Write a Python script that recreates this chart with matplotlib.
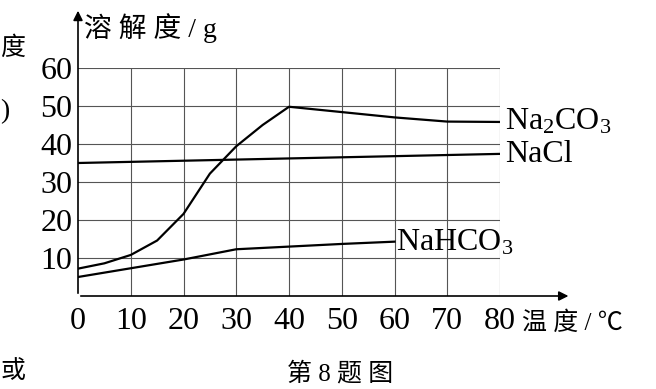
import matplotlib.pyplot as plt

plt.rcParams['font.family'] = ['Liberation Serif', 'Noto Sans CJK SC']
plt.rcParams['mathtext.fontset'] = 'custom'
plt.rcParams['mathtext.rm'] = 'Liberation Serif'
plt.rcParams['mathtext.it'] = 'Liberation Serif'

# solubility data (g / 100 g water)
t_na2co3 = [0, 5, 10, 15, 20, 25, 30, 35, 40, 50, 60, 70, 80]
na2co3 = [7.2, 8.6, 10.8, 14.6, 21.6, 32.2, 39.4, 45.0, 49.8, 48.4, 47.0, 45.9, 45.8]

t_nacl = [0, 20, 40, 60, 80]
nacl = [35.0, 35.6, 36.2, 36.8, 37.4]

t_nahco3 = [0, 10, 20, 30, 40, 50, 60]
nahco3 = [5.0, 7.3, 9.6, 12.3, 13.0, 13.7, 14.3]

xticks = [0, 10, 20, 30, 40, 50, 60, 70, 80]
yticks = [10, 20, 30, 40, 50, 60]

fig = plt.figure(figsize=(6.56, 3.89), dpi=100)
ax = fig.add_axes([78/656, 1-296/389, 422/656, 228/389])

for x in xticks[1:]:
    ax.plot([x, x], [0, 60], color='#555555', lw=0.8, zorder=1)
for y in yticks:
    ax.plot([0, 80], [y, y], color='#555555', lw=0.8, zorder=1)

ax.plot(t_na2co3, na2co3, color='black', lw=1.6, zorder=3)
ax.plot(t_nacl, nacl, color='black', lw=1.6, zorder=3)
ax.plot(t_nahco3, nahco3, color='black', lw=1.6, zorder=3)

ax.set_xlim(0, 80)
ax.set_ylim(0, 60)
for s in ax.spines.values():
    s.set_visible(False)

# axis arrows
ax.annotate('', xy=(93.5, 0), xytext=(0, 0),
            arrowprops=dict(arrowstyle='-|>', color='black', lw=1.2, mutation_scale=14),
            annotation_clip=False)
ax.annotate('', xy=(0, 75.8), xytext=(0, 0),
            arrowprops=dict(arrowstyle='-|>', color='black', lw=1.2, mutation_scale=14),
            annotation_clip=False)

ax.set_xticks(xticks)
ax.set_yticks(yticks)
ax.tick_params(length=0, labelsize=23)
ax.tick_params(axis='x', pad=8)
ax.tick_params(axis='y', pad=4)

ax.text(81, 45.8, 'Na$_2$CO$_3$', fontsize=23, va='center', ha='left')
ax.text(81, 37.2, 'NaCl', fontsize=23, va='center', ha='left')
ax.text(60.2, 14.0, 'NaHCO$_3$', fontsize=23, va='center', ha='left')

ax.text(1.2, 70.5, '溶 解 度 / g', fontsize=20, va='center', ha='left')
fig.text(522/656, 1-323/389, '温 度 / ℃', fontsize=18, va='center', ha='left')
fig.text(340/656, 1-374/389, '第 8 题 图', fontsize=18, va='center', ha='center')

# text fragments at the left edge of the scan
fig.text(0.0, 1-48/389, '度', fontsize=18, va='center', ha='left')
fig.text(0.0, 1-112/389, ')', fontsize=20, va='center', ha='left')
fig.text(0.0, 1-372/389, '或', fontsize=18, va='center', ha='left')

fig.savefig('out.png', dpi=100)
